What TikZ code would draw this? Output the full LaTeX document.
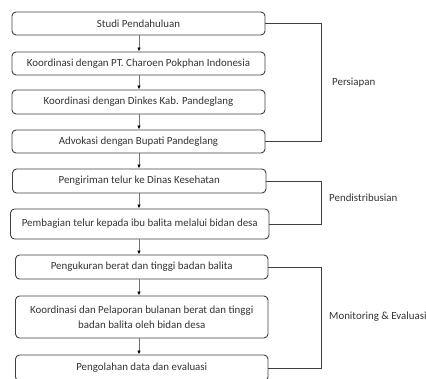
\documentclass[tikz,border=0pt]{standalone}
\usepackage{fontspec}
\setmainfont{Carlito}
\usetikzlibrary{arrows.meta}
\definecolor{boxline}{HTML}{404040}
\definecolor{txt}{HTML}{333333}
\definecolor{arrline}{HTML}{707070}
\begin{document}
\begin{tikzpicture}[x=1pt,y=-1pt,
  box/.style={draw=boxline, line width=0.9pt, rounded corners=4pt, inner sep=1pt, align=center, text=txt, font=\fontsize{10.9}{15}\selectfont},
  arr/.style={draw=arrline, line width=0.8pt, -{Latex[length=4pt,width=3.5pt,color=black]}},
  brk/.style={draw=boxline, line width=0.9pt},
  lab/.style={anchor=west, text=txt, font=\fontsize{10.9}{13}\selectfont, inner sep=0pt}]
\useasboundingbox (0,0) rectangle (426,379);
\node[box, minimum width=253pt, minimum height=23pt] (b1) at (138.5,23.5) {Studi Pendahuluan};
\node[box, minimum width=253pt, minimum height=23pt] (b2) at (138.5,63.5) {Koordinasi dengan PT. Charoen Pokphan Indonesia};
\node[box, minimum width=253pt, minimum height=24pt] (b3) at (138.5,102) {Koordinasi dengan Dinkes Kab. Pandeglang};
\node[box, minimum width=253pt, minimum height=23pt] (b4) at (138.5,141.5) {Advokasi dengan Bupati Pandeglang};
\node[box, minimum width=253.5pt, minimum height=24pt] (b5) at (139.25,181) {Pengiriman telur ke Dinas Kesehatan};
\node[box, minimum width=258.5pt, minimum height=30pt] (b6) at (139.75,224) {Pembagian telur kepada ibu balita melalui bidan desa};
\node[box, minimum width=252.5pt, minimum height=24pt] (b7) at (141.75,267) {Pengukuran berat dan tinggi badan balita};
\node[box, minimum width=252.5pt, minimum height=42pt] (b8) at (141.75,317) {Koordinasi dan Pelaporan bulanan berat dan tinggi\\badan balita oleh bidan desa};
\node[box, minimum width=252.5pt, minimum height=26pt] (b9) at (141.75,368) {Pengolahan data dan evaluasi};
\coordinate (ax) at (139,0);
\coordinate (px) at (321,0);
\foreach \a/\b in {b1/b2,b2/b3,b3/b4,b4/b5,b5/b6,b6/b7,b7/b8,b8/b9}
  \draw[arr] (\a.south -| ax) -- (\b.north -| ax);
\draw[brk] (b1.east) -- (b1.east -| px) -- (b4.east -| px) -- (b4.east);
\draw[brk] (b5.east) -- (b5.east -| px) -- (b6.east -| px) -- (b6.east);
\draw[brk] (b7.east) -- (b7.east -| px) -- (b9.east -| px) -- (b9.east);
\node[lab] (l1) at (332,83) {Persiapan};
\node[lab] (l2) at (329,198) {Pendistribusian};
\node[lab] (l3) at (329,317) {Monitoring \& Evaluasi};
\end{tikzpicture}
\end{document}
